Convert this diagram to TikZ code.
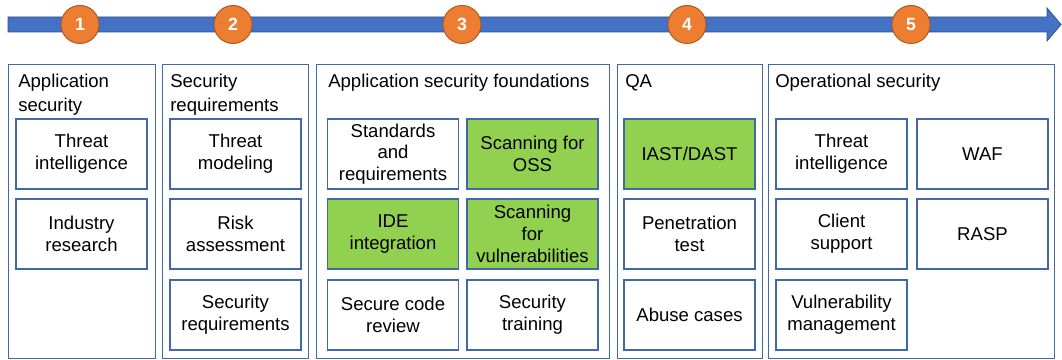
\documentclass[tikz,border=0pt]{standalone}
\usepackage{fontspec}
\setmainfont{Liberation Sans}
\usetikzlibrary{positioning}
\definecolor{barblue}{HTML}{4472C4}
\definecolor{barline}{HTML}{2F528F}
\definecolor{steporange}{HTML}{ED7D31}
\definecolor{stepline}{HTML}{AE5A21}
\definecolor{boxblue}{HTML}{4169A8}
\definecolor{hlgreen}{HTML}{92D050}

\begin{document}
\begin{tikzpicture}[x=0.025cm,y=-0.025cm,
  every node/.style={font=\fontsize{13.2}{15.4}\selectfont},
  phase/.style={draw=boxblue,line width=0.7pt},
  task/.style={draw=boxblue,line width=1pt,minimum width=3.275cm,minimum height=1.75cm,align=center,inner sep=1pt},
  done/.style={task,fill=hlgreen},
  title/.style={anchor=north west,inner sep=0pt,align=left,font=\fontsize{13.2}{17}\selectfont},
  stepnum/.style={circle,fill=steporange,draw=stepline,line width=0.7pt,minimum size=0.95cm,inner sep=0pt,text=white,font=\fontsize{12.6}{14}\selectfont\bfseries}]
  \useasboundingbox (0,0) rectangle (1062,360);
  % Timeline arrow
  \filldraw[fill=barblue,draw=barline,line width=0.6pt] (8,17) -- (1047,17) -- (1047,8) -- (1061,24.5) -- (1047,41) -- (1047,32) -- (8,32) -- cycle;
  % Step markers
  \foreach \n/\x in {1/80,2/233,3/462,4/687,5/911}
    \node[stepnum] (s\n) at (\x,24.5) {\n};
  % Phase frames
  \draw[phase] (8,64) rectangle (155,358);
  \draw[phase] (162,64) rectangle (308,358);
  \draw[phase] (316,64) rectangle (609,358);
  \draw[phase] (617,64) rectangle (762,358);
  \draw[phase] (768,64) rectangle (1054,358);
  % Phase titles
  \node[title] (t1) at (18,74) {Application\\security};
  \node[title] (t2) at (170,74) {Security\\requirements};
  \node[title] (t3) at (328,74) {Application security foundations};
  \node[title] (t4) at (625,74) {QA};
  \node[title] (t5) at (775,74) {Operational security};
  % Application security
  \node[task] (ti1) at (81.5,154) {Threat\\intelligence};
  \node[task] (ir) at (81.5,234) {Industry\\research};
  % Security requirements
  \node[task] (tm) at (235.5,154) {Threat\\modeling};
  \node[task] (ra) at (235.5,234) {Risk\\assessment};
  \node[task] (sr) at (235.5,315) {Security\\requirements};
  % Foundations
  \node[task] (sar) at (393,154) {Standards\\and\\requirements};
  \node[done] (oss) at (532.5,154) {Scanning for\\OSS};
  \node[done] (ide) at (393,234) {IDE\\integration};
  \node[done] (vuln) at (532.5,234) {Scanning\\for\\vulnerabilities};
  \node[task] (scr) at (393,315) {Secure code\\review};
  \node[task] (st) at (532.5,315) {Security\\training};
  % QA
  \node[done] (iast) at (689.5,154) {IAST/DAST};
  \node[task] (pt) at (689.5,234) {Penetration\\test};
  \node[task] (ac) at (689.5,315) {Abuse cases};
  % Operational security
  \node[task] (ti2) at (841.5,154) {Threat\\intelligence};
  \node[task] (waf) at (982.5,154) {WAF};
  \node[task] (cs) at (841.5,234) {Client\\support};
  \node[task] (rasp) at (982.5,234) {RASP};
  \node[task] (vm) at (841.5,315) {Vulnerability\\management};
\end{tikzpicture}
\end{document}
